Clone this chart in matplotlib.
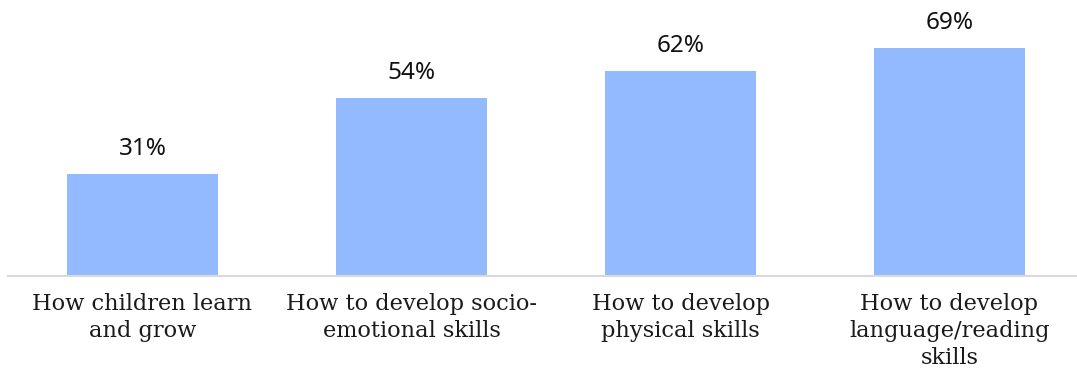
import matplotlib
matplotlib.use("Agg")
import matplotlib.pyplot as plt

categories = ["How children learn\nand grow",
              "How to develop socio-\nemotional skills",
              "How to develop\nphysical skills",
              "How to develop\nlanguage/reading\nskills"]
values = [31, 54, 62, 69]
value_labels = ["31%", "54%", "62%", "69%"]

fig = plt.figure(figsize=(10.77, 3.75), dpi=100)
ax = fig.add_axes([8/1077, 1 - 276/375, 1 - 8/1077, 276/375])
x = list(range(len(categories)))
ax.bar(x, values, width=0.561, color="#93b9ff", zorder=2)
ax.set_xlim(-0.5, -0.5 + 1069/269)
ax.set_ylim(0, 276/3.3)
for s in ["top", "right", "left"]:
    ax.spines[s].set_visible(False)
ax.spines["bottom"].set_color("#d9d9d9")
ax.spines["bottom"].set_linewidth(1.5)
ax.set_yticks([])
ax.set_xticks(x)
ax.set_xticklabels(categories, fontfamily="DejaVu Serif", fontsize=16.2,
                   color="#1a1a1a", linespacing=1.3)
ax.tick_params(axis="x", length=0, pad=12)
for xi, v, lab in zip(x, values, value_labels):
    ax.annotate(lab, (xi, v), xytext=(0, 13), textcoords="offset pixels",
                ha="center", va="bottom", fontfamily="Noto Sans", fontsize=17.5,
                color="#111111")
fig.savefig("out.png", dpi=100)
